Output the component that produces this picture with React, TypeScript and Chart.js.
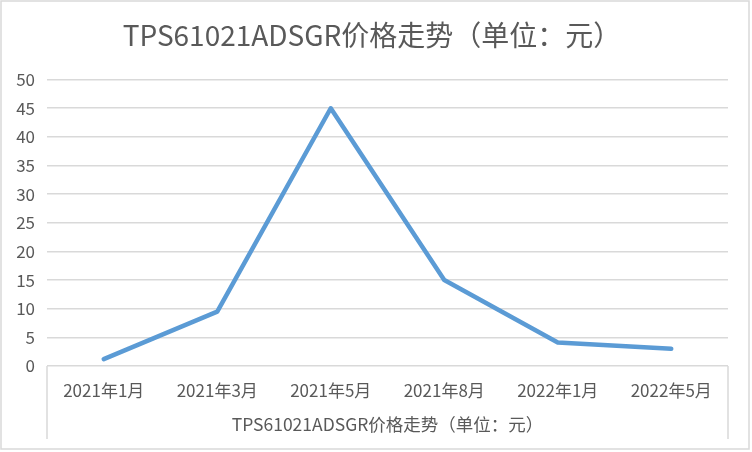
import React, { useEffect, useRef } from "react";
import { Chart, registerables } from "chart.js";

Chart.register(...registerables);

const categories = ["2021年1月", "2021年3月", "2021年5月", "2021年8月", "2022年1月", "2022年5月"];
const prices = [1.2, 9.5, 45, 15, 4.1, 3];
const yMin = 0;
const yMax = 50;
const yStep = 5;
const chartTitle = "TPS61021ADSGR价格走势（单位：元）";
const axisTitle = "TPS61021ADSGR价格走势（单位：元）";

const FONT = "'Noto Sans CJK SC', 'Noto Sans', sans-serif";
const TEXT = "#595959";
const GRID = "#d9d9d9";
const LINE = "#5b9bd5";

export default function App() {
  const ref = useRef<HTMLCanvasElement>(null);

  useEffect(() => {
    document.body.style.margin = "0";
    const canvas = ref.current;
    if (!canvas) return;

    const framePlugin = {
      id: "frame",
      beforeDraw(chart: any) {
        const { ctx, width, height } = chart;
        ctx.save();
        ctx.fillStyle = "#ffffff";
        ctx.fillRect(0, 0, width, height);
        ctx.restore();
      },
      afterDraw(chart: any) {
        const { ctx, chartArea } = chart;
        const xs = chart.scales.x;
        ctx.save();
        ctx.strokeStyle = GRID;
        ctx.lineWidth = 1.5;
        ctx.beginPath();
        ctx.moveTo(chartArea.left, chartArea.bottom);
        ctx.lineTo(chartArea.left, xs.bottom);
        ctx.moveTo(chartArea.right, chartArea.bottom);
        ctx.lineTo(chartArea.right, xs.bottom);
        ctx.stroke();
        ctx.strokeRect(1, 1, 748, 448);
        ctx.restore();
      },
    };

    const chart = new Chart(canvas, {
      type: "line",
      data: {
        labels: categories,
        datasets: [
          {
            data: prices,
            borderColor: LINE,
            backgroundColor: LINE,
            borderWidth: 4.5,
            pointRadius: 0,
            pointHoverRadius: 0,
            tension: 0,
            borderCapStyle: "round",
            borderJoinStyle: "round",
            fill: false,
          },
        ],
      },
      options: {
        responsive: false,
        animation: false,
        devicePixelRatio: 1,
        layout: { padding: { left: 8, right: 16, top: 0, bottom: 13 } },
        plugins: {
          legend: { display: false },
          tooltip: { enabled: false },
          title: {
            display: true,
            text: chartTitle,
            color: TEXT,
            font: { family: FONT, size: 28, weight: "normal" },
            padding: { top: 19, bottom: 27 },
          },
        },
        scales: {
          x: {
            offset: true,
            grid: { display: false, drawTicks: false, offset: true },
            border: { display: false },
            ticks: {
              color: TEXT,
              font: { family: FONT, size: 17 },
              padding: 14,
              maxRotation: 0,
              autoSkip: false,
            },
            title: {
              display: true,
              text: axisTitle,
              color: TEXT,
              font: { family: FONT, size: 17.5 },
              padding: { top: 0, bottom: 4 },
            },
            afterFit(scale: any) {
              scale.height = 73;
            },
          },
          y: {
            min: yMin,
            max: yMax,
            grid: { color: GRID, lineWidth: 1.5, drawTicks: false },
            border: { display: false },
            ticks: {
              stepSize: yStep,
              color: TEXT,
              font: { family: FONT, size: 17 },
              padding: 12,
            },
            afterFit(scale: any) {
              scale.width = 39;
            },
          },
          ySpacer: {
            position: "right",
            min: yMin,
            max: yMax,
            grid: { display: false, drawTicks: false },
            border: { display: false },
            ticks: { display: false },
            afterFit(scale: any) {
              scale.width = 8;
            },
          },
        },
      },
      plugins: [framePlugin],
    });

    return () => chart.destroy();
  }, []);

  return (
    <div style={{ width: 752, height: 452 }}>
      <canvas ref={ref} width={752} height={452} style={{ display: "block" }} />
    </div>
  );
}
